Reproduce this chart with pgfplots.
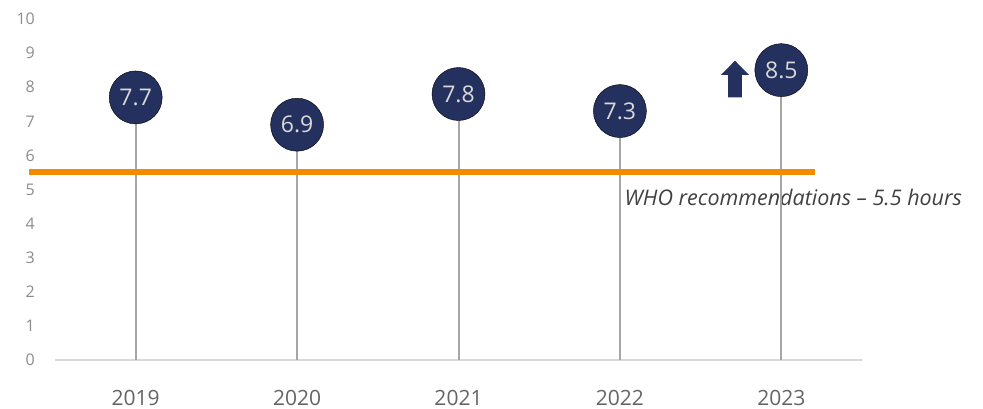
\documentclass[border=0pt]{standalone}
\usepackage{fontspec}
\setmainfont{Open Sans}
\usepackage{pgfplots}
\pgfplotsset{compat=1.18}
\definecolor{navy}{RGB}{36,48,94}
\definecolor{whoorange}{RGB}{242,139,0}
\definecolor{stemgray}{RGB}{166,166,166}
\definecolor{axisgray}{RGB}{217,217,217}
\definecolor{ticklab}{RGB}{140,140,140}
\definecolor{yearlab}{RGB}{100,100,100}

\begin{document}
\begin{tikzpicture}
  \useasboundingbox (0,0) rectangle (983pt,409pt);
  \begin{axis}[
      at={(55pt,49pt)}, anchor=south west,
      scale only axis,
      width=807pt, height=341pt,
      xmin=-0.5, xmax=4.5,
      ymin=0, ymax=10,
      clip=false,
      axis x line*=bottom,
      axis y line=none,
      x axis line style={draw=axisgray, line width=1.5pt, -},
      xtick={0,1,2,3,4},
      xticklabels={2019,2020,2021,2022,2023},
      major tick length=0pt,
      xticklabel style={font=\fontsize{21}{23}\selectfont, text=yearlab, yshift=-27pt},
      /pgf/number format/assume math mode=true,
    ]
    % y tick labels (no axis line in the original)
    \addplot[draw=none, nodes near coords, point meta=y,
      nodes near coords style={anchor=east, inner sep=0pt, xshift=-20pt,
        font=\fontsize{16}{18}\selectfont, text=ticklab},
      every node near coord/.append style={/pgf/number format/int detect}]
      coordinates {(-0.5,0)(-0.5,1)(-0.5,2)(-0.5,3)(-0.5,4)(-0.5,5)
                   (-0.5,6)(-0.5,7)(-0.5,8)(-0.5,9)(-0.5,10)};

    % WHO label
    \node[anchor=east, font=\fontsize{21.5}{23}\selectfont\itshape, text=black!75, inner sep=0pt]
      at (axis cs:5.12,4.78) {WHO recommendations -- 5.5 hours};

    % stems
    \addplot[ycomb, draw=stemgray, line width=2pt, mark=none]
      coordinates {(0,7.7)(1,6.9)(2,7.8)(3,7.3)(4,8.5)};

    % WHO line
    \addplot[whoorange, line width=6pt, mark=none]
      coordinates {(-0.661,5.5)(4.209,5.5)};

    % circles
    \addplot[only marks, mark=*, mark size=26.5pt,
      mark options={fill=navy, draw=none},
      nodes near coords, point meta=y,
      nodes near coords style={anchor=center, inner sep=0pt,
        font=\fontsize{23}{25}\selectfont, text=white!85!black,
        /pgf/number format/.cd, fixed, fixed zerofill, precision=1}]
      coordinates {(0,7.7)(1,6.9)(2,7.8)(3,7.3)(4,8.5)};

    % up arrow
    \addplot[fill=navy, draw=none, mark=none]
      coordinates {(3.671,7.704)(3.755,7.704)(3.755,8.358)(3.800,8.358)
                   (3.713,8.777)(3.626,8.358)(3.671,8.358)} -- cycle;
  \end{axis}
\end{tikzpicture}
\end{document}
